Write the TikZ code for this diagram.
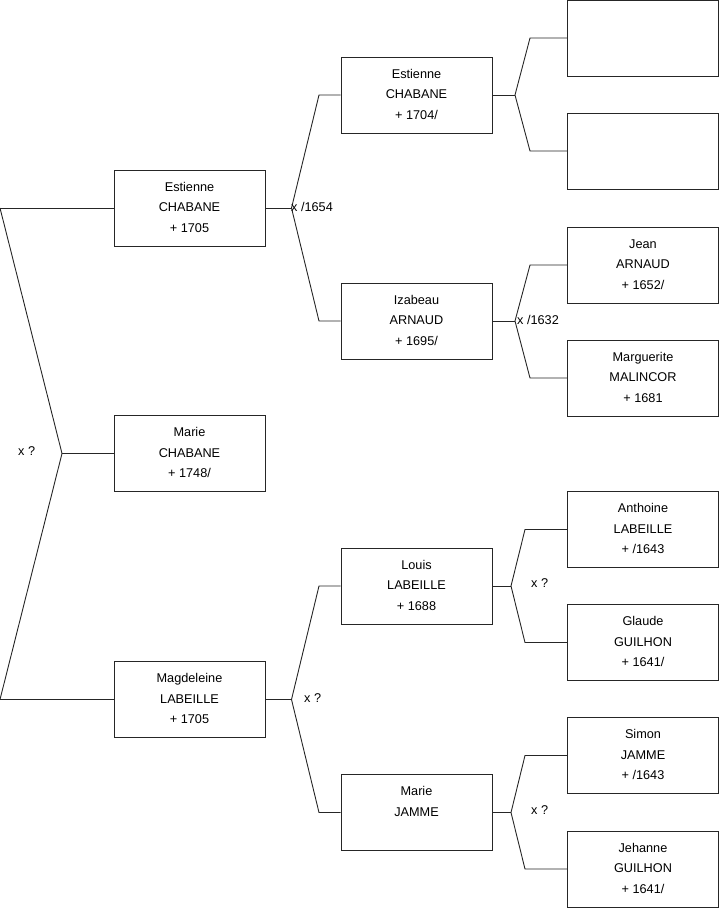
\documentclass[tikz,border=0pt]{standalone}
\usepackage{fontspec}
\setmainfont{Liberation Sans}
\begin{document}
\begin{tikzpicture}[x=1pt,y=-1pt,
  person/.style={draw=black!85,line width=0.9pt,minimum width=151pt,minimum height=76pt,inner sep=0pt,align=center,text height=48pt,text depth=0pt,font=\fontsize{12.7}{20.5}\selectfont},
  link/.style={draw=black!85,line width=0.9pt},
  lbl/.style={font=\fontsize{12.7}{14}\selectfont,inner sep=0pt}]
\useasboundingbox (0,0) rectangle (719,908);
% level 1
\node[person] (e1) at (189.5,208) {Estienne\\CHABANE\\+ 1705};
\node[person] (m1) at (189.5,453.5) {Marie\\CHABANE\\+ 1748/};
\node[person] (g1) at (189.5,699.5) {Magdeleine\\LABEILLE\\+ 1705};
% level 2
\node[person] (e2) at (416.5,95) {Estienne\\CHABANE\\+ 1704/};
\node[person] (i2) at (416.5,321) {Izabeau\\ARNAUD\\+ 1695/};
\node[person] (l2) at (416.5,586) {Louis\\LABEILLE\\+ 1688};
\node[person] (j2) at (416.5,812.5) {Marie\\JAMME\\\mbox{}};
% level 3
\node[person] (b1) at (643,38) {};
\node[person] (b2) at (643,151) {};
\node[person] (ja) at (643,265) {Jean\\ARNAUD\\+ 1652/};
\node[person] (mm) at (643,378) {Marguerite\\MALINCOR\\+ 1681};
\node[person] (al) at (643,529.5) {Anthoine\\LABEILLE\\+ /1643};
\node[person] (gg) at (643,642.5) {Glaude\\GUILHON\\+ 1641/};
\node[person] (sj) at (643,755.5) {Simon\\JAMME\\+ /1643};
\node[person] (jg) at (643,869) {Jehanne\\GUILHON\\+ 1641/};
% fork coordinates
\coordinate (t0) at (0,208);
\coordinate (b0) at (0,699.5);
\coordinate (f0) at (62,453.5);
\coordinate (fe) at (291.5,208);
\coordinate (fg) at (291.5,699.5);
\coordinate (fe2) at (515,95);
\coordinate (fi2) at (515,321);
\coordinate (fl2) at (511,586);
\coordinate (fj2) at (511,812.5);
% connectors
\draw[link] (t0) -- (e1.west);
\draw[link] (b0) -- (g1.west);
\draw[link] (t0) -- (f0) -- (b0);
\draw[link] (f0) -- (m1.west);
\draw[link] (e1.east) -- (fe);
\draw[link] (fe) -- (319,95) -- (e2.west);
\draw[link] (fe) -- (319,321) -- (i2.west);
\draw[link] (g1.east) -- (fg);
\draw[link] (fg) -- (319,586) -- (l2.west);
\draw[link] (fg) -- (319,812.5) -- (j2.west);
\draw[link] (e2.east) -- (fe2);
\draw[link] (fe2) -- (530,38) -- (b1.west);
\draw[link] (fe2) -- (530,151) -- (b2.west);
\draw[link] (i2.east) -- (fi2);
\draw[link] (fi2) -- (530,265) -- (ja.west);
\draw[link] (fi2) -- (530,378) -- (mm.west);
\draw[link] (l2.east) -- (fl2);
\draw[link] (fl2) -- (525,529.5) -- (al.west);
\draw[link] (fl2) -- (525,642.5) -- (gg.west);
\draw[link] (j2.east) -- (fj2);
\draw[link] (fj2) -- (525,755.5) -- (sj.west);
\draw[link] (fj2) -- (525,869) -- (jg.west);
% labels
\node[lbl,anchor=west] (x0) at (18,451.5) {x ?};
\node[lbl,anchor=west] (x1) at (291,207) {x /1654};
\node[lbl,anchor=west] (x2) at (517,320) {x /1632};
\node[lbl,anchor=west] (x3) at (304,698) {x ?};
\node[lbl,anchor=west] (x4) at (531,583) {x ?};
\node[lbl,anchor=west] (x5) at (531,810.5) {x ?};
\end{tikzpicture}
\end{document}
